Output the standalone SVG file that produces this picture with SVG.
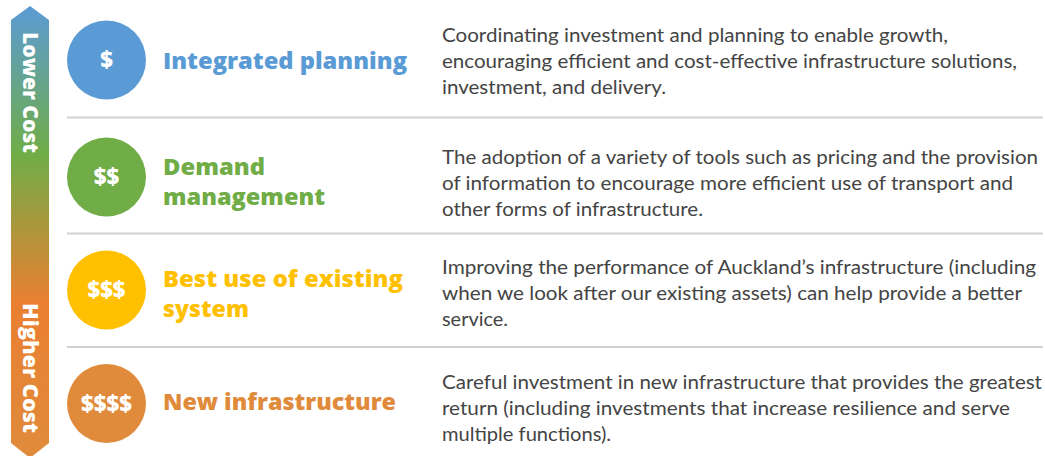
<svg xmlns="http://www.w3.org/2000/svg" width="1045" height="456" viewBox="0 0 1045 456">
  <defs>
    <linearGradient id="costGrad" x1="0" y1="6" x2="0" y2="456" gradientUnits="userSpaceOnUse">
      <stop offset="0" stop-color="#5b9bd5"/>
      <stop offset="0.33" stop-color="#70ad47"/>
      <stop offset="0.66" stop-color="#ea7f31"/>
      <stop offset="1" stop-color="#e08b3b"/>
    </linearGradient>
  </defs>
  <style>
    .axis { font-family: "Open Sans", Lato, "Liberation Sans", sans-serif; font-weight: 800; font-size: 21px; fill: #ffffff; }
    .badge { font-family: "Open Sans", Lato, "Liberation Sans", sans-serif; font-weight: 800; font-size: 22px; fill: #ffffff; text-anchor: middle; }
    .title { font-family: "Open Sans", Lato, "Liberation Sans", sans-serif; font-weight: 800; font-size: 23px; }
    .desc { font-family: Lato, "Liberation Sans", sans-serif; font-size: 19.5px; fill: #444444; }
    .sep { stroke: #d0d0d0; stroke-width: 2; }
    .blue { fill: #5b9bd5; }
    .green { fill: #70ad47; }
    .yellow { fill: #ffc000; }
    .orange { fill: #e08b3b; }
  </style>

  <rect width="1045" height="456" fill="#ffffff"/>

  <!-- double-ended cost scale -->
  <g id="cost-scale">
    <polygon points="30,6 49,20 49,443 30,458 11,443 11,20" fill="url(#costGrad)"/>
    <text class="axis" transform="translate(22.5,32) rotate(90)" textLength="121" lengthAdjust="spacingAndGlyphs">Lower Cost</text>
    <text class="axis" transform="translate(22.5,303) rotate(90)" textLength="130" lengthAdjust="spacingAndGlyphs">Higher Cost</text>
  </g>

  <!-- row separators -->
  <g id="separators">
    <line class="sep" x1="67" y1="117.5" x2="1043" y2="117.5"/>
    <line class="sep" x1="67" y1="233.5" x2="1043" y2="233.5"/>
    <line class="sep" x1="67" y1="347" x2="1043" y2="347"/>
  </g>

  <g id="integrated-planning">
    <circle class="blue" cx="106.5" cy="60" r="39.5"/>
    <text class="badge" x="106.5" y="68">$</text>
    <text class="title blue" x="163" y="69" textLength="244" lengthAdjust="spacingAndGlyphs">Integrated planning</text>
    <text class="desc" x="442" y="42" textLength="506" lengthAdjust="spacingAndGlyphs">Coordinating investment and planning to enable growth,</text>
    <text class="desc" x="442" y="68" textLength="575" lengthAdjust="spacingAndGlyphs">encouraging efficient and cost-effective infrastructure solutions,</text>
    <text class="desc" x="442" y="94" textLength="224" lengthAdjust="spacingAndGlyphs">investment, and delivery.</text>
  </g>

  <g id="demand-management">
    <circle class="green" cx="106.5" cy="177" r="39.5"/>
    <text class="badge" x="106.5" y="185">$$</text>
    <text class="title green" x="163" y="175" textLength="102" lengthAdjust="spacingAndGlyphs">Demand</text>
    <text class="title green" x="163" y="205" textLength="162" lengthAdjust="spacingAndGlyphs">management</text>
    <text class="desc" x="442" y="164" textLength="596" lengthAdjust="spacingAndGlyphs">The adoption of a variety of tools such as pricing and the provision</text>
    <text class="desc" x="442" y="190" textLength="571" lengthAdjust="spacingAndGlyphs">of information to encourage more efficient use of transport and</text>
    <text class="desc" x="442" y="216" textLength="261" lengthAdjust="spacingAndGlyphs">other forms of infrastructure.</text>
  </g>

  <g id="best-use-existing">
    <circle class="yellow" cx="106.5" cy="290" r="39.5"/>
    <text class="badge" x="106.5" y="298">$$$</text>
    <text class="title yellow" x="163" y="287" textLength="240" lengthAdjust="spacingAndGlyphs">Best use of existing</text>
    <text class="title yellow" x="163" y="317" textLength="86" lengthAdjust="spacingAndGlyphs">system</text>
    <text class="desc" x="442" y="274" textLength="594" lengthAdjust="spacingAndGlyphs">Improving the performance of Auckland’s infrastructure (including</text>
    <text class="desc" x="442" y="300" textLength="580" lengthAdjust="spacingAndGlyphs">when we look after our existing assets) can help provide a better</text>
    <text class="desc" x="442" y="326" textLength="66" lengthAdjust="spacingAndGlyphs">service.</text>
  </g>

  <g id="new-infrastructure">
    <circle class="orange" cx="106.5" cy="403.5" r="39.5"/>
    <text class="badge" x="106.5" y="411.5">$$$$</text>
    <text class="title orange" x="163" y="410" textLength="233" lengthAdjust="spacingAndGlyphs">New infrastructure</text>
    <text class="desc" x="442" y="389" textLength="600" lengthAdjust="spacingAndGlyphs">Careful investment in new infrastructure that provides the greatest</text>
    <text class="desc" x="442" y="415" textLength="568" lengthAdjust="spacingAndGlyphs">return (including investments that increase resilience and serve</text>
    <text class="desc" x="442" y="441" textLength="169" lengthAdjust="spacingAndGlyphs">multiple functions).</text>
  </g>
</svg>
